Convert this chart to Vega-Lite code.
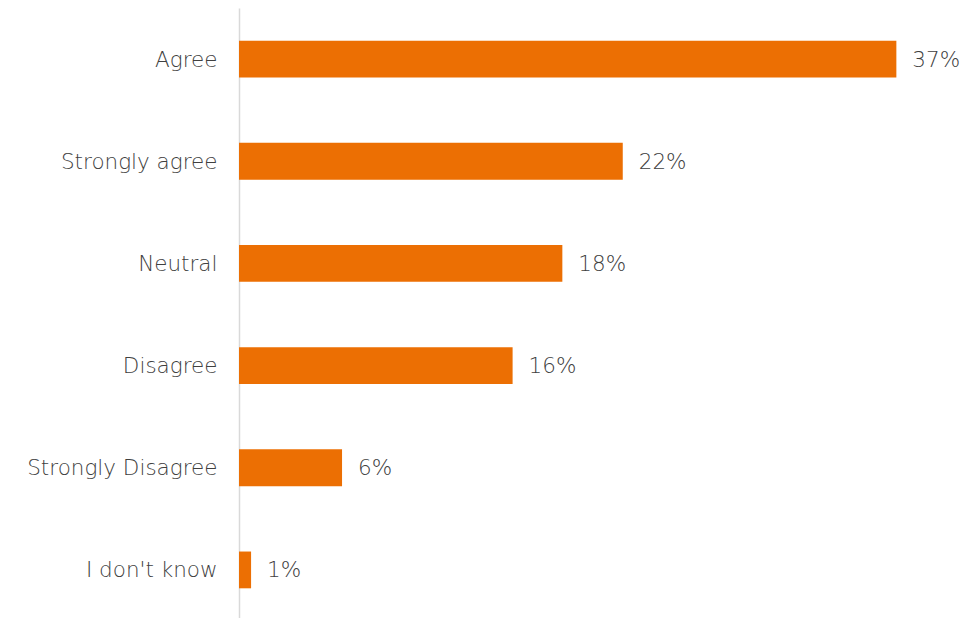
{
  "$schema": "https://vega.github.io/schema/vega-lite/v6.json",
  "width": 700,
  "height": 613,
  "autosize": {"type": "none"},
  "padding": {"left": 239, "top": 8, "right": 25, "bottom": 0},
  "background": "white",
  "config": {"view": {"stroke": null}, "font": "DejaVu Sans"},
  "data": {"values": [
    {"response": "Agree", "value": 37.0, "label": "37%"},
    {"response": "Strongly agree", "value": 21.6, "label": "22%"},
    {"response": "Neutral", "value": 18.2, "label": "18%"},
    {"response": "Disagree", "value": 15.4, "label": "16%"},
    {"response": "Strongly Disagree", "value": 5.8, "label": "6%"},
    {"response": "I don't know", "value": 0.68, "label": "1%"}
  ]},
  "encoding": {
    "y": {"field": "response", "type": "nominal", "sort": null,
      "scale": {"paddingInner": 0.64, "paddingOuter": 0.32},
      "axis": {"title": null, "ticks": false, "domainColor": "#d9d9d9", "domainWidth": 1.5,
        "labelFont": "DejaVu Sans", "labelFontSize": 21.5, "labelColor": "#404040", "labelPadding": 22, "labelFontWeight": 200,
        "labelLimit": 400, "labelOffset": 1.5}},
    "x": {"field": "value", "type": "quantitative",
      "scale": {"domain": [0, 39.4], "nice": false},
      "axis": null}
  },
  "layer": [
    {"mark": {"type": "bar", "color": "#EC6F03"}},
    {"mark": {"type": "text", "align": "left", "dx": 16, "dy": 1.5, "fontSize": 21.5, "color": "#404040", "fontWeight": 200, "font": "DejaVu Sans"},
      "encoding": {"text": {"field": "label"}}}
  ]
}
